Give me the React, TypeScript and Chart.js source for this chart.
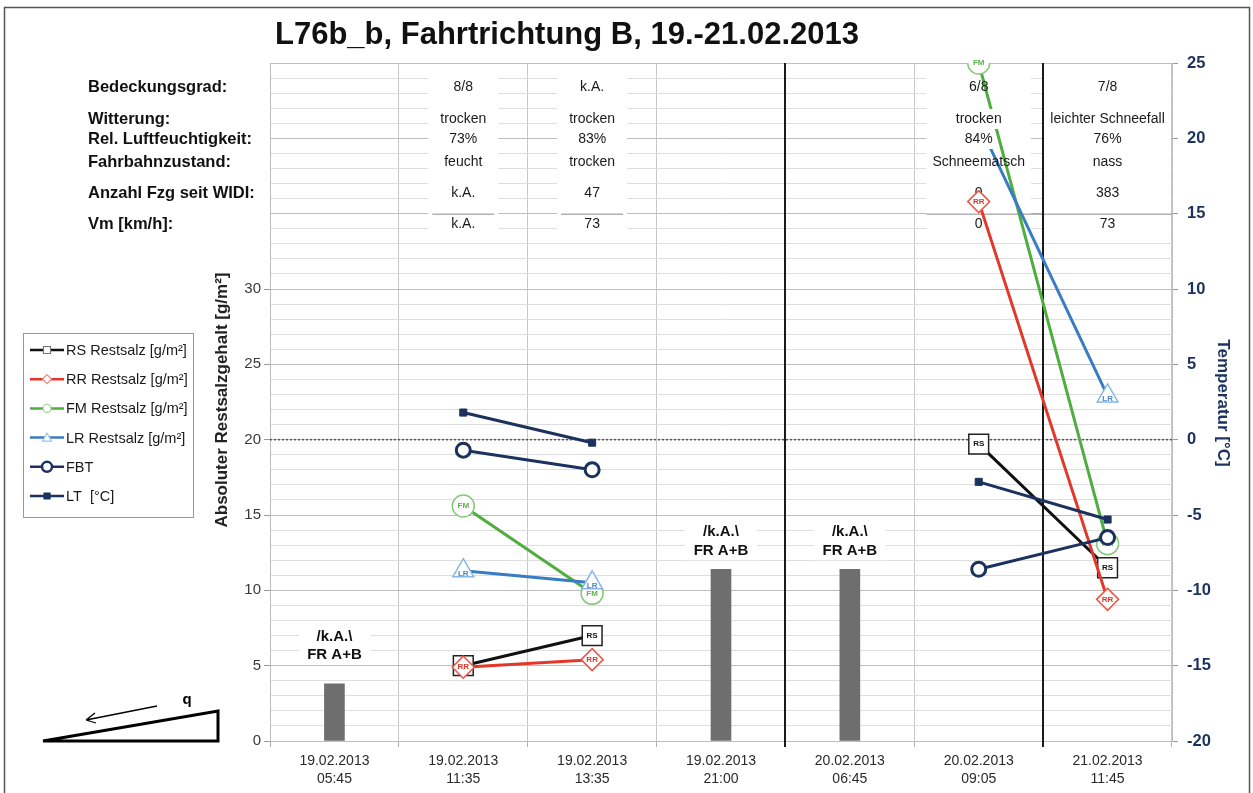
import { useEffect, useRef } from 'react';
import { Chart, registerables } from 'chart.js';

Chart.register(...registerables);

// ---------- data ----------
const categories: string[][] = [
  ['19.02.2013', '05:45'],
  ['19.02.2013', '11:35'],
  ['19.02.2013', '13:35'],
  ['19.02.2013', '21:00'],
  ['20.02.2013', '06:45'],
  ['20.02.2013', '09:05'],
  ['21.02.2013', '11:45'],
];

const rsRestsalz = [null, 5.0, 7.0, null, null, 19.7, 11.5];
const rrRestsalz = [null, 4.9, 5.4, null, null, 35.8, 9.4];
const fmRestsalz = [null, 15.6, 9.8, null, null, 45.0, 13.1];
const lrRestsalz = [null, 11.3, 10.5, null, null, 41.0, 22.9];
const fbtTemp = [null, -0.7, -2.0, null, null, -8.6, -6.5];
const ltTemp = [null, 1.8, -0.2, null, null, -2.8, -5.3];
const noDataBars = [3.8, null, null, 11.4, 11.4, null, null];
const noDataText = ['/k.A.\\', 'FR A+B'];

// category boundaries drawn as heavy black separators
const separatorIndices = [4, 6];

const leftTickLabels = [0, 5, 10, 15, 20, 25, 30];
const rightTickLabels = [-20, -15, -10, -5, 0, 5, 10, 15, 20, 25];

const titleText = 'L76b_b, Fahrtrichtung B, 19.-21.02.2013';
const leftAxisTitle = 'Absoluter Restsalzgehalt [g/m²]';
const rightAxisTitle = 'Temperatur [°C]';

const rowLabels = [
  'Bedeckungsgrad:',
  'Witterung:',
  'Rel. Luftfeuchtigkeit:',
  'Fahrbahnzustand:',
  'Anzahl Fzg seit WIDI:',
  'Vm [km/h]:',
];
const bedeckung = ['', '8/8', 'k.A.', '', '', '6/8', '7/8'];
const witterung = ['', 'trocken', 'trocken', '', '', 'trocken', 'leichter Schneefall'];
const feuchte = ['', '73%', '83%', '', '', '84%', '76%'];
const fahrbahn = ['', 'feucht', 'trocken', '', '', 'Schneematsch', 'nass'];
const anzahlFzg = ['', 'k.A.', '47', '', '', '0', '383'];
const vm = ['', 'k.A.', '73', '', '', '0', '73'];
const tableRows = [bedeckung, witterung, feuchte, fahrbahn, anzahlFzg, vm];

const legendLabels = [
  'RS Restsalz [g/m²]',
  'RR Restsalz [g/m²]',
  'FM Restsalz [g/m²]',
  'LR Restsalz [g/m²]',
  'FBT',
  'LT  [°C]',
];

// ---------- styles ----------
const NARROW = "'Liberation Sans Narrow', 'Arial Narrow', 'Liberation Sans', Arial, sans-serif";
const SANS = "'Liberation Sans', Arial, sans-serif";
const NAVY = '#1c325e';
const BLACK = '#111111';
const RED = '#e3372a';
const GREEN = '#4fae3f';
const BLUE = '#3a7cc3';

const rowY = [87, 119, 139, 162, 193, 224];

function drawTable(chart: any) {
  const { ctx, scales } = chart;
  const x = scales.x;
  ctx.save();
  ctx.textBaseline = 'middle';
  ctx.font = `bold 16.5px ${NARROW}`;
  ctx.fillStyle = '#111';
  ctx.textAlign = 'left';
  rowLabels.forEach((l, i) => ctx.fillText(l, 88, rowY[i]));
  ctx.font = `14px ${NARROW}`;
  ctx.textAlign = 'center';
  tableRows.forEach((row, r) => {
    row.forEach((t, c) => {
      if (!t) return;
      const cx = x.getPixelForValue(c);
      if (r === 1 || r === 2) {
        const w = ctx.measureText(t).width + 4;
        ctx.fillStyle = '#fff';
        ctx.fillRect(cx - w / 2, rowY[r] - 10, w, 20);
      }
      ctx.fillStyle = '#1a1a1a';
      ctx.fillText(t, cx, rowY[r]);
    });
  });
  ctx.restore();
}

function drawMarker(ctx: CanvasRenderingContext2D, kind: string, x: number, y: number) {
  ctx.save();
  ctx.fillStyle = '#fff';
  ctx.lineWidth = 1.2;
  ctx.beginPath();
  if (kind === 'rs') {
    ctx.strokeStyle = '#777';
    ctx.rect(x - 3.5, y - 3.5, 7, 7);
  } else if (kind === 'rr') {
    ctx.strokeStyle = '#ef8a7e';
    ctx.moveTo(x - 4.5, y); ctx.lineTo(x, y - 4.5); ctx.lineTo(x + 4.5, y); ctx.lineTo(x, y + 4.5); ctx.closePath();
  } else if (kind === 'fm') {
    ctx.strokeStyle = '#9fd494';
    ctx.arc(x, y, 4, 0, Math.PI * 2);
  } else if (kind === 'lr') {
    ctx.strokeStyle = '#9cc3ea';
    ctx.moveTo(x - 4.5, y + 3.5); ctx.lineTo(x, y - 4.5); ctx.lineTo(x + 4.5, y + 3.5); ctx.closePath();
  } else if (kind === 'fbt') {
    ctx.strokeStyle = NAVY;
    ctx.lineWidth = 2.5;
    ctx.arc(x, y, 5, 0, Math.PI * 2);
  } else if (kind === 'lt') {
    ctx.fillStyle = NAVY;
    ctx.strokeStyle = NAVY;
    ctx.rect(x - 3, y - 3, 6, 6);
  }
  ctx.fill();
  ctx.stroke();
  ctx.restore();
}

const customPlugin = {
  id: 'customDraw',
  beforeDatasetsDraw(chart: any) {
    const { ctx, chartArea, scales } = chart;
    const x = scales.x;
    const y = scales.y;
    ctx.save();
    // white table cells over grid
    ctx.font = `14px ${NARROW}`;
    const top = y.getPixelForValue(44.5);
    const bot = y.getPixelForValue(33.8);
    const y35 = y.getPixelForValue(35);
    let rightStart = chartArea.right;
    for (let c = 0; c < categories.length; c++) {
      const col = tableRows.map((r) => r[c]).filter(Boolean);
      if (!col.length) continue;
      const w = Math.max(70, Math.max(...col.map((t) => ctx.measureText(t).width)) + 12);
      const cx = x.getPixelForValue(c);
      ctx.fillStyle = '#fff';
      ctx.fillRect(cx - w / 2, top, w, bot - top);
      ctx.strokeStyle = '#8a8a8a';
      ctx.lineWidth = 1;
      ctx.beginPath();
      if (c >= 5) {
        rightStart = Math.min(rightStart, cx - w / 2);
      } else {
        ctx.moveTo(cx - w / 2 + 4, y35 + 0.5);
        ctx.lineTo(cx + w / 2 - 4, y35 + 0.5);
      }
      ctx.stroke();
    }
    ctx.strokeStyle = '#8a8a8a';
    ctx.beginPath();
    ctx.moveTo(rightStart, y35 + 0.5);
    ctx.lineTo(chartArea.right, y35 + 0.5);
    ctx.stroke();

    // dotted zero-temperature line
    const y20 = y.getPixelForValue(20);
    ctx.setLineDash([2, 2]);
    ctx.strokeStyle = '#555';
    ctx.lineWidth = 1.5;
    ctx.beginPath();
    ctx.moveTo(chartArea.left, y20);
    ctx.lineTo(chartArea.right, y20);
    ctx.stroke();
    ctx.setLineDash([]);

    // heavy black separators between categories
    ctx.strokeStyle = '#1a1a1a';
    ctx.lineWidth = 2;
    separatorIndices.forEach((k) => {
      const px = Math.round((x.getPixelForValue(k - 1) + x.getPixelForValue(k)) / 2);
      ctx.beginPath();
      ctx.moveTo(px, chartArea.top);
      ctx.lineTo(px, chartArea.bottom + 6);
      ctx.stroke();
    });

    // "no data" annotations above the bars
    ctx.font = `bold 15px ${NARROW}`;
    ctx.textAlign = 'center';
    ctx.textBaseline = 'middle';
    noDataBars.forEach((v, i) => {
      if (v == null) return;
      const cx = x.getPixelForValue(i);
      const ty = y.getPixelForValue(v);
      const off = i === 0 ? [-47, -29] : [-37, -18];
      ctx.fillStyle = '#fff';
      ctx.fillRect(cx - 36, ty + off[0] - 11, 72, off[1] - off[0] + 20);
      ctx.fillStyle = '#111';
      ctx.fillText(noDataText[0], cx, ty + off[0]);
      ctx.fillText(noDataText[1], cx, ty + off[1]);
    });
    ctx.restore();
  },
  afterDatasetDraw(chart: any, args: any) {
    const ds = chart.data.datasets[args.index];
    const ctx = chart.ctx;
    if (ds.markerText) {
      ctx.save();
      ctx.font = `bold 8px ${SANS}`;
      ctx.fillStyle = ds.markerTextColor;
      ctx.textAlign = 'center';
      ctx.textBaseline = 'middle';
      args.meta.data.forEach((el: any, i: number) => {
        if (ds.data[i] == null) return;
        ctx.fillText(ds.markerText, el.x, el.y + (ds.pointStyle === 'triangle' ? 3 : 0));
      });
      ctx.restore();
    }
    if (ds.label === legendLabels[3]) drawTable(chart);
  },
  afterDraw(chart: any) {
    const { ctx, chartArea } = chart;
    ctx.save();
    // frame
    ctx.strokeStyle = '#555';
    ctx.lineWidth = 1.5;
    ctx.strokeRect(4.5, 7.5, 1245, 800);

    // title
    ctx.fillStyle = '#111';
    ctx.font = `bold 31px ${SANS}`;
    ctx.textAlign = 'center';
    ctx.textBaseline = 'middle';
    ctx.fillText(titleText, 567, 35);

    // axis titles
    ctx.font = `bold 17px ${NARROW}`;
    ctx.save();
    ctx.translate(222, 400);
    ctx.rotate(-Math.PI / 2);
    ctx.fillStyle = '#222';
    ctx.fillText(leftAxisTitle, 0, 0);
    ctx.restore();
    ctx.save();
    ctx.translate(1223, 403);
    ctx.rotate(Math.PI / 2);
    ctx.fillStyle = NAVY;
    ctx.fillText(rightAxisTitle, 0, 0);
    ctx.restore();

    // legend
    ctx.fillStyle = '#fff';
    ctx.fillRect(23, 333, 170, 184);
    ctx.strokeStyle = '#999';
    ctx.lineWidth = 1;
    ctx.strokeRect(23.5, 333.5, 170, 184);
    const kinds = ['rs', 'rr', 'fm', 'lr', 'fbt', 'lt'];
    const lcolors = [BLACK, RED, GREEN, BLUE, NAVY, NAVY];
    legendLabels.forEach((l, i) => {
      const ly = 350 + i * 29.2;
      ctx.strokeStyle = lcolors[i];
      ctx.lineWidth = 2.5;
      ctx.beginPath();
      ctx.moveTo(30, ly);
      ctx.lineTo(64, ly);
      ctx.stroke();
      drawMarker(ctx, kinds[i], 47, ly);
      ctx.fillStyle = '#1a1a1a';
      ctx.font = `14.5px ${NARROW}`;
      ctx.textAlign = 'left';
      ctx.textBaseline = 'middle';
      ctx.fillText(l, 66, ly + 1);
    });

    // slope sketch
    ctx.strokeStyle = '#000';
    ctx.lineWidth = 3;
    ctx.lineJoin = 'miter';
    ctx.beginPath();
    ctx.moveTo(43, chartArea.bottom);
    ctx.lineTo(218, 711);
    ctx.lineTo(218, chartArea.bottom);
    ctx.closePath();
    ctx.stroke();
    ctx.lineWidth = 1.3;
    ctx.beginPath();
    ctx.moveTo(157, 706);
    ctx.lineTo(86, 720);
    ctx.moveTo(86, 720);
    ctx.lineTo(95, 713);
    ctx.moveTo(86, 720);
    ctx.lineTo(96, 723);
    ctx.stroke();
    ctx.fillStyle = '#000';
    ctx.font = `bold 15px ${SANS}`;
    ctx.textAlign = 'center';
    ctx.fillText('q', 187, 700);
    ctx.restore();
  },
};

export default function App() {
  const ref = useRef<HTMLCanvasElement>(null);

  useEffect(() => {
    const canvas = ref.current;
    if (!canvas) return;
    const chart = new Chart(canvas, {
      type: 'bar',
      data: {
        labels: categories as any,
        datasets: [
          {
            type: 'bar',
            label: 'k.A.',
            data: noDataBars as any,
            backgroundColor: '#6e6e6e',
            barThickness: 20,
            yAxisID: 'y',
            order: 7,
          },
          {
            type: 'line',
            label: legendLabels[2],
            data: fmRestsalz as any,
            borderColor: GREEN,
            borderWidth: 3,
            pointStyle: 'circle',
            pointRadius: 11,
            pointBorderColor: '#86c979',
            pointBackgroundColor: '#fff',
            pointBorderWidth: 1.5,
            yAxisID: 'y',
            order: 6,
            markerText: 'FM',
            markerTextColor: '#5cb34d',
          } as any,
          {
            type: 'line',
            label: legendLabels[3],
            data: lrRestsalz as any,
            borderColor: BLUE,
            borderWidth: 3,
            pointStyle: 'triangle',
            pointRadius: 12,
            pointBorderColor: '#86b6e6',
            pointBackgroundColor: '#fff',
            pointBorderWidth: 1.5,
            yAxisID: 'y',
            order: 5,
            markerText: 'LR',
            markerTextColor: '#4a88c8',
          } as any,
          {
            type: 'line',
            label: legendLabels[0],
            data: rsRestsalz as any,
            borderColor: BLACK,
            borderWidth: 3,
            pointStyle: 'rect',
            pointRadius: 14,
            pointBorderColor: '#222',
            pointBackgroundColor: '#fff',
            pointBorderWidth: 1.5,
            yAxisID: 'y',
            order: 4,
            markerText: 'RS',
            markerTextColor: '#111',
          } as any,
          {
            type: 'line',
            label: legendLabels[1],
            data: rrRestsalz as any,
            borderColor: RED,
            borderWidth: 3,
            pointStyle: 'rectRot',
            pointRadius: 11,
            pointBorderColor: '#ec5444',
            pointBackgroundColor: '#fff',
            pointBorderWidth: 1.5,
            yAxisID: 'y',
            order: 3,
            markerText: 'RR',
            markerTextColor: '#e3372a',
          } as any,
          {
            type: 'line',
            label: legendLabels[5],
            data: ltTemp as any,
            borderColor: NAVY,
            borderWidth: 3,
            pointStyle: 'rect',
            pointRadius: 5,
            pointBorderColor: NAVY,
            pointBackgroundColor: NAVY,
            pointBorderWidth: 1,
            yAxisID: 'y1',
            order: 2,
          },
          {
            type: 'line',
            label: legendLabels[4],
            data: fbtTemp as any,
            borderColor: NAVY,
            borderWidth: 3,
            pointStyle: 'circle',
            pointRadius: 7,
            pointBorderColor: NAVY,
            pointBackgroundColor: '#fff',
            pointBorderWidth: 3,
            yAxisID: 'y1',
            order: 1,
          },
        ],
      },
      options: {
        responsive: false,
        animation: false,
        events: [],
        layout: { padding: { top: 63, left: 0, right: 0, bottom: 0 } },
        plugins: {
          legend: { display: false },
          tooltip: { enabled: false },
          title: { display: false },
        },
        scales: {
          x: {
            type: 'category',
            offset: true,
            grid: {
              offset: true,
              color: (c: any) => (separatorIndices.includes(c.index) ? 'rgba(0,0,0,0)' : '#c9c9c9'),
              tickColor: (c: any) => (separatorIndices.includes(c.index) ? 'rgba(0,0,0,0)' : '#b0b0b0'),
              tickLength: 6,
            },
            border: { color: '#bdbdbd' },
            ticks: {
              color: '#2a2a2a',
              font: { family: NARROW, size: 14, lineHeight: 1.3 },
              padding: 5,
              maxRotation: 0,
              autoSkip: false,
            },
            afterFit: (s: any) => {
              s.height = 52;
            },
          },
          y: {
            type: 'linear',
            position: 'left',
            min: 0,
            max: 45,
            grid: {
              color: (c: any) => {
                const v = c.tick ? c.tick.value : 0;
                return v % 5 === 0 ? '#bebebe' : '#dedede';
              },
              tickColor: (c: any) => {
                const v = c.tick ? c.tick.value : 0;
                return leftTickLabels.includes(v) ? '#9a9a9a' : 'rgba(0,0,0,0)';
              },
              tickLength: 6,
            },
            border: { color: '#bdbdbd' },
            ticks: {
              stepSize: 1,
              autoSkip: false,
              maxTicksLimit: 100,
              padding: 3,
              color: '#3a3a3a',
              font: { family: SANS, size: 15 },
              callback: (v: any) => (leftTickLabels.includes(Number(v)) ? String(v) : ''),
            },
            afterFit: (s: any) => {
              s.width = 270;
            },
          },
          y1: {
            type: 'linear',
            position: 'right',
            min: -20,
            max: 25,
            grid: { drawOnChartArea: false, tickLength: 6, color: '#9a9a9a' },
            border: { color: '#bdbdbd' },
            ticks: {
              stepSize: 5,
              padding: 9,
              color: NAVY,
              font: { family: SANS, size: 16.5, weight: 'bold' },
              callback: (v: any) => (rightTickLabels.includes(Number(v)) ? String(v) : ''),
            },
            afterFit: (s: any) => {
              s.width = 81;
            },
          },
        },
      },
      plugins: [customPlugin],
    } as any);
    return () => chart.destroy();
  }, []);

  return (
    <canvas
      ref={ref}
      width={1253}
      height={793}
      style={{ position: 'fixed', left: 0, top: 0, width: 1253, height: 793, display: 'block', background: '#fff' }}
    />
  );
}
